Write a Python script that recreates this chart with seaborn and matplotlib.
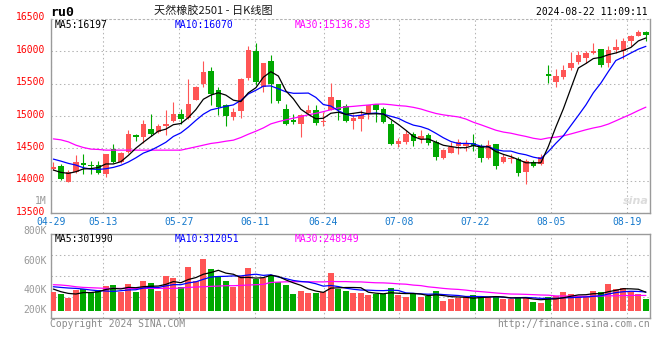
import numpy as np
import pandas as pd
import matplotlib
matplotlib.use("Agg")
import matplotlib.pyplot as plt
import seaborn as sns
from matplotlib.transforms import ScaledTranslation

# ---------------- data ----------------
dates = ['04-29', '04-30', '05-06', '05-07', '05-08', '05-09', '05-10',
         '05-13', '05-14', '05-15', '05-16', '05-17',
         '05-20', '05-21', '05-22', '05-23', '05-24',
         '05-27', '05-28', '05-29', '05-30', '05-31',
         '06-03', '06-04', '06-05', '06-06', '06-07',
         '06-11', '06-12', '06-13', '06-14',
         '06-17', '06-18', '06-19', '06-20', '06-21',
         '06-24', '06-25', '06-26', '06-27', '06-28',
         '07-01', '07-02', '07-03', '07-04', '07-05',
         '07-08', '07-09', '07-10', '07-11', '07-12',
         '07-15', '07-16', '07-17', '07-18', '07-19',
         '07-22', '07-23', '07-24', '07-25', '07-26',
         '07-29', '07-30', '07-31', '08-01', '08-02',
         '08-05', '08-06', '08-07', '08-08', '08-09',
         '08-12', '08-13', '08-14', '08-15', '08-16',
         '08-19', '08-20', '08-21', '08-22']

opens = [14180, 14230, 13990, 14140, 14280, 14250, 14245, 14105, 14490, 14285,
         14440, 14705, 14680, 14805, 14755, 14845, 14920, 15025, 14975, 15250,
         15500, 15700, 15395, 15165, 14985, 15080, 15585, 16010, 15445, 15855,
         15490, 15105, 14945, 14875, 15050, 15100, 14905, 15100, 15240, 15150,
         14925, 14960, 15025, 15180, 15110, 14875, 14565, 14600, 14720, 14640,
         14705, 14600, 14360, 14435, 14535, 14540, 14585, 14535, 14355, 14565,
         14295, 14345, 14335, 14140, 14295, 14255, 15645, 15525, 15600, 15740,
         15830, 15890, 15970, 16035, 15815, 16020, 16010, 16165, 16240, 16300]
highs = [14285, 14255, 14165, 14400, 14420, 14310, 14305, 14415, 14575, 14440,
         14780, 14730, 14935, 15035, 14885, 15090, 15215, 15115, 15565, 15460,
         15845, 15755, 15445, 15190, 15130, 15585, 16075, 16120, 15820, 15935,
         15495, 15180, 15035, 15035, 15165, 15165, 15065, 15510, 15245, 15180,
         15035, 15090, 15170, 15185, 15140, 14945, 14655, 14780, 14755, 14780,
         14740, 14630, 14485, 14600, 14640, 14630, 14720, 14575, 14630, 14575,
         14420, 14410, 14370, 14330, 14320, 14410, 15795, 15730, 15780, 15985,
         16010, 16010, 16125, 16040, 16085, 16190, 16205, 16245, 16330, 16310]
lows = [14170, 14015, 13985, 14125, 14100, 14100, 14105, 14065, 14270, 14270,
        14425, 14620, 14590, 14690, 14740, 14705, 14910, 14885, 14960, 15240,
        15445, 15165, 15010, 14845, 14935, 14975, 15550, 15485, 15370, 15200,
        15200, 14860, 14875, 14680, 15035, 14860, 14845, 15090, 14945, 14910,
        14805, 14770, 14960, 14910, 14895, 14550, 14525, 14565, 14535, 14585,
        14550, 14320, 14330, 14425, 14415, 14465, 14465, 14295, 14345, 14180,
        14270, 14280, 14080, 13950, 14220, 14240, 15510, 15445, 15565, 15705,
        15805, 15815, 15950, 15755, 15755, 15970, 15880, 16085, 16230, 16165]
closes = [14215, 14035, 14140, 14285, 14250, 14235, 14125, 14410, 14285, 14425,
          14720, 14680, 14870, 14720, 14845, 14875, 15025, 14960, 15180, 15455,
          15675, 15345, 15140, 15000, 15065, 15565, 16025, 15525, 15815, 15490,
          15230, 14885, 14910, 15010, 15090, 14895, 14925, 15295, 15090, 14925,
          14975, 15010, 15165, 15100, 14910, 14565, 14610, 14720, 14620, 14690,
          14590, 14370, 14475, 14525, 14600, 14590, 14535, 14355, 14550, 14235,
          14370, 14360, 14125, 14305, 14235, 14370, 15625, 15625, 15705, 15815,
          15935, 15970, 16010, 15795, 16020, 16070, 16165, 16240, 16300, 16245]
volumes_k = [311, 273, 213, 338, 349, 311, 338, 403, 420, 311,
             436, 311, 485, 458, 327, 572, 540, 392, 719, 485,
             845, 681, 572, 491, 392, 567, 703, 512, 529, 583,
             474, 420, 273, 327, 294, 294, 311, 621, 349, 322,
             294, 294, 256, 267, 273, 376, 256, 229, 273, 229,
             245, 327, 164, 185, 202, 218, 256, 218, 218, 245,
             185, 185, 218, 218, 147, 131, 229, 240, 311, 273,
             240, 245, 322, 311, 436, 354, 376, 311, 278, 191]

# moving-average values before enough history is visible
ma5_head = [14167, 14131, 14116, 14141]
ma10_head = [14336, 14305, 14270, 14244, 14203, 14182, 14177, 14187, 14208]
ma30_head = [14648, 14633, 14602, 14551, 14515, 14490, 14485,
             14474, 14474, 14474, 14474, 14474, 14474, 14474, 14474, 14474, 14474, 14474,
             14500, 14525, 14551, 14577, 14592, 14612, 14628, 14669, 14720, 14766, 14817]
vma5_head = [354, 311, 283, 273]
vma10_head = [392, 381, 371, 365, 354, 338, 327, 322, 316]
vma30_head = [425, 420, 409, 392, 381, 376, 371,
              365, 365, 365, 365, 365, 365, 365, 365, 365, 365,
              371, 381, 387, 392, 398, 403, 409, 409, 414, 420, 425, 431]

tick_dates = ['04-29', '05-13', '05-27', '06-11', '06-24', '07-08', '07-22', '08-05', '08-19']
price_ticks = [13500, 14000, 14500, 15000, 15500, 16000, 16500]
vol_tick_labels = ['800K', '600K', '400K', '200K']

title_code = 'ru0'
title_name = '天然橡胶2501 - 日K线图'
timestamp = '2024-08-22 11:09:11'
price_ma_text = ['MA5:16197', 'MA10:16070', 'MA30:15136.83']
vol_ma_text = ['MA5:301990', 'MA10:312051', 'MA30:248949']
copyright_text = 'Copyright 2024 SINA.COM'
url_text = 'http://finance.sina.com.cn'

# ---------------- derived ----------------
n = len(dates)
xs = np.arange(n)
df = pd.DataFrame({'x': xs, 'open': opens, 'high': highs, 'low': lows,
                   'close': closes, 'vol': np.array(volumes_k) * 1000.0})


def ma_series(values, window, head):
    r = pd.Series(values, dtype=float).rolling(window).mean().to_numpy()
    r[:len(head)] = head
    return r


df['ma5'] = ma_series(df['close'], 5, ma5_head)
df['ma10'] = ma_series(df['close'], 10, ma10_head)
df['ma30'] = ma_series(df['close'], 30, ma30_head)
df['vma5'] = ma_series(df['vol'], 5, np.array(vma5_head) * 1000.0)
df['vma10'] = ma_series(df['vol'], 10, np.array(vma10_head) * 1000.0)
df['vma30'] = ma_series(df['vol'], 30, np.array(vma30_head) * 1000.0)

RED = '#ff5555'
GREEN = '#00a800'
up = df['close'] >= df['open']
colors = np.where(up, RED, GREEN)

# ---------------- style ----------------
sns.set_theme(style='white')
plt.rcParams['font.family'] = ['DejaVu Sans Mono', 'DejaVu Sans']
MONO = ['DejaVu Sans Mono', 'DejaVu Sans']
CJK = ['Noto Sans CJK SC', 'DejaVu Sans']

W, H = 660, 360
fig = plt.figure(figsize=(6.6, 3.6), dpi=100)
fig.patch.set_facecolor('white')


def fx(px):
    return px / W


def fy(py):
    return 1 - py / H


L, R = 50.7, 650.0
ax = fig.add_axes([fx(L), fy(213.3), fx(R - L), (213.3 - 18.8) / H])
axv = fig.add_axes([fx(L), fy(317.7), fx(R - L), (317.7 - 234.3) / H])

XLIM = (-0.353, 79.55)
tick_idx = [dates.index(d) for d in tick_dates]
tick_pos = [max(1.0126 * k - 0.43, -0.34) for k in tick_idx]

GRID = dict(color='#b4b4b4', linestyle=(0, (1.4, 2.6)), linewidth=0.75)

# ---- price panel ----
body_bottom = np.minimum(df['open'], df['close'])
body_h = np.maximum(np.abs(df['close'] - df['open']), 12)
ax.vlines(df['x'], df['low'], df['high'], colors=colors, linewidth=0.8, zorder=3)
ax.bar(df['x'], body_h, bottom=body_bottom, width=0.72, color=colors,
       linewidth=0, zorder=4)
for col, c in [('ma30', '#ff00ff'), ('ma10', '#0000ff'), ('ma5', '#000000')]:
    sns.lineplot(data=df, x='x', y=col, ax=ax, color=c, linewidth=0.9, zorder=5)

ax.set_xlim(*XLIM)
ax.set_ylim(13500, 16500)
ax.set_yticks(price_ticks)
ax.set_yticklabels([str(v) for v in price_ticks])
ax.set_xticks(tick_pos)
ax.set_xticklabels(tick_dates)
ax.set_xlabel('')
ax.set_ylabel('')
ax.grid(True, **GRID)
ax.tick_params(axis='y', length=0, pad=4, labelcolor='#ff0000', labelsize=7)
ax.tick_params(axis='x', length=0, pad=3, labelcolor='#1478cc', labelsize=7)
off = ScaledTranslation(0, 2.5 / 100, fig.dpi_scale_trans)
for lab in ax.get_yticklabels():
    lab.set_transform(lab.get_transform() + off)
for s in ['left', 'right', 'bottom']:
    ax.spines[s].set_color('#9a9a9a')
    ax.spines[s].set_linewidth(1.0)
ax.spines['top'].set_color('#b4b4b4')
ax.spines['top'].set_linestyle((0, (1.4, 2.6)))
ax.spines['top'].set_linewidth(0.75)

# ---- volume panel ----
axv.bar(df['x'], df['vol'], width=0.8, color=colors, linewidth=0, zorder=3)
for col, c in [('vma30', '#ff00ff'), ('vma10', '#0000ff'), ('vma5', '#000000')]:
    sns.lineplot(data=df, x='x', y=col, ax=axv, color=c, linewidth=0.9, zorder=5)
VLO, VHI = -114e3, 1249e3
axv.set_xlim(*XLIM)
axv.set_ylim(VLO, VHI)
axv.set_yticks([VLO + f * (VHI - VLO) for f in (0.25, 0.5, 0.75)])
axv.set_yticklabels([])
axv.set_xticks(tick_pos)
axv.set_xticklabels([])
axv.set_xlabel('')
axv.set_ylabel('')
axv.grid(True, **GRID)
axv.tick_params(length=0)
for s in axv.spines.values():
    s.set_color('#9a9a9a')
    s.set_linewidth(1.0)

# ---- texts ----
for lab, py in zip(vol_tick_labels, [230.7, 260.7, 290.0, 310.0]):
    fig.text(fx(46.5), fy(py), lab, ha='right', va='center', color='#999999',
             fontsize=7, family=MONO)
fig.text(fx(46.5), fy(200.7), '1M', ha='right', va='center', color='#999999',
         fontsize=7, family=MONO)

fig.text(fx(50), fy(12), title_code, ha='left', va='center', color='#000000',
         fontsize=9.5, fontweight='bold', family=MONO)
fig.text(fx(213), fy(10), title_name, ha='center', va='center', color='#1a1a1a',
         fontsize=8, family=CJK)
fig.text(fx(648), fy(12), timestamp, ha='right', va='center', color='#000000',
         fontsize=7, family=MONO)

for txt, px, c in zip(price_ma_text, [55, 175, 295], ['#000000', '#0000ff', '#ff00ff']):
    fig.text(fx(px), fy(24.5), txt, ha='left', va='center', color=c, fontsize=7, family=MONO)
for txt, px, c in zip(vol_ma_text, [55, 175, 295], ['#000000', '#0000ff', '#ff00ff']):
    fig.text(fx(px), fy(238.5), txt, ha='left', va='center', color=c, fontsize=7, family=MONO)

fig.text(fx(50), fy(324), copyright_text, ha='left', va='center', color='#8a8a8a',
         fontsize=7, family=MONO)
fig.text(fx(650), fy(324), url_text, ha='right', va='center', color='#8a8a8a',
         fontsize=7, family=MONO)
fig.text(fx(636), fy(201), 'sina', ha='center', va='center', color='#dcdcdc',
         fontsize=8, fontweight='bold', fontstyle='italic', family=['DejaVu Sans'])

fig.savefig('out.png', dpi=100, facecolor='white')
